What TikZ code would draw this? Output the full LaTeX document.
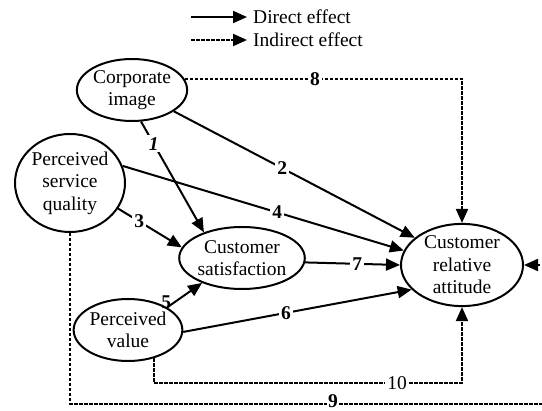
\documentclass[tikz,border=0pt]{standalone}
\usepackage{fontspec}
\setmainfont{Liberation Serif}
\usetikzlibrary{arrows.meta,shapes.geometric,calc}
\begin{document}
\begin{tikzpicture}[x=1pt,y=-1pt,
  font=\fontsize{19.5}{22.5}\selectfont,
  ell/.style={draw,line width=2pt,ellipse,inner sep=0pt,align=center},
  direct/.style={line width=2pt,-{Triangle[length=14pt,width=12pt]}},
  indirect/.style={line width=2pt,dash pattern=on 3.5pt off 1.5pt,-{Triangle[length=14pt,width=12pt]}},
  lbl/.style={fill=white,inner sep=2pt,font=\fontsize{19.5}{22.5}\selectfont\bfseries}]
\useasboundingbox (0,0) rectangle (542,411);
\clip (0,0) rectangle (542,411);

% legend
\coordinate (l1a) at (191,17);
\coordinate (l1b) at (247,17);
\coordinate (l2a) at (191,40);
\coordinate (l2b) at (247,40);
\node[anchor=west,inner sep=0pt] (t1) at (253,17) {Direct effect};
\node[anchor=west,inner sep=0pt] (t2) at (253,40) {Indirect effect};
\draw[direct] (l1a) -- (l1b);
\draw[indirect] (l2a) -- (l2b);

% nodes
\node[ell,minimum width=104pt,minimum height=62pt] (ci) at (132,90) {Corporate\\image};
\node[ell,minimum width=110pt,minimum height=98pt] (psq) at (70,183) {Perceived\\service\\quality};
\node[ell,minimum width=122pt,minimum height=62pt] (cs) at (242,258) {Customer\\satisfaction};
\node[ell,minimum width=102pt,minimum height=62pt] (pv) at (128,330) {Perceived\\value};
\node[ell,minimum width=122pt,minimum height=82pt] (cra) at (462,265) {Customer\\relative\\attitude};

% direct effects
\draw[direct] (ci.-74) -- node[lbl,pos=0.2] {\textit{1}} (cs.146);
\draw[direct] (ci.-27) -- node[lbl,pos=0.45] {2} (cra.150);
\draw[direct] (psq.-28) -- node[lbl,pos=0.33] {3} (cs.170);
\draw[direct] (psq.18) -- node[lbl,pos=0.55] {4} (cra.166);
\draw[direct] (pv.30) -- node[lbl,pos=0.2,left,fill=none] {5} (cs.212);
\draw[direct] (pv.-2) -- node[lbl,pos=0.45] {6} (cra.206);
\draw[direct] (cs.-4) -- node[lbl,pos=0.55] {7} (cra.180);

% indirect effects
\coordinate (c9) at (560,404);
\coordinate (y10) at (0,383);
\draw[indirect] (ci.12) -| (cra.north);
\node[lbl] (n8) at (315,79) {8};
\draw[indirect] (psq.south) |- (c9) |- (cra.east);
\node[lbl,inner sep=1pt] (n9) at (333,401) {9};
\draw[indirect] (pv.-47) |- (cra.south |- y10) -- (cra.south);
\node[lbl,font=\fontsize{19.5}{22.5}\selectfont] (n10) at (397,383) {10};
\end{tikzpicture}
\end{document}
